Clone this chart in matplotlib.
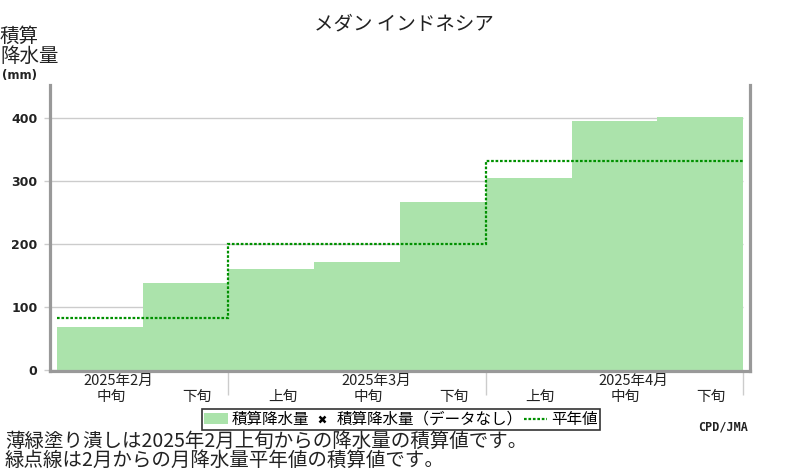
import numpy as np
import matplotlib
matplotlib.use('Agg')
import matplotlib.pyplot as plt
from matplotlib.patches import Patch
from matplotlib.lines import Line2D

plt.rcParams['font.family'] = ['Noto Sans CJK JP', 'DejaVu Sans']

# data: cumulative precipitation per dekad (mm)
dekads = ['中旬', '下旬', '上旬', '中旬', '下旬', '上旬', '中旬', '下旬']
months = ['2025年2月', '2025年3月', '2025年4月']
month_idx = [0, 3, 6]
precip_cum = [69, 139, 161, 172, 267, 306, 396, 402]
normal_cum = [83.5, 83.5, 200, 200, 200, 333, 333, 333]
month_bounds = [2, 5, 8]
yticks = [0, 100, 200, 300, 400]

bar_color = '#abe3ab'
line_color = '#009000'
axis_gray = '#999999'
grid_gray = '#cccccc'

fig = plt.figure(figsize=(8, 4.7), dpi=100)
ax = fig.add_axes([50/800, 1-371/470, 700/800, 286/470])

n = len(precip_cum)
x = np.arange(n)
ax.hlines(yticks, -0.08, n, color=grid_gray, lw=1, zorder=0)
ax.bar(x, precip_cum, width=1, align='edge', color=bar_color, lw=0, zorder=1)
ax.stairs(normal_cum, np.arange(n + 1), baseline=None, color=line_color,
          lw=1.6, linestyle=(0, (1.2, 0.8)), zorder=2)

ax.set_xlim(-0.08, n + 0.08)
ax.set_ylim(-1, 453)

for side in ['left', 'bottom', 'right']:
    ax.spines[side].set_color(axis_gray)
    ax.spines[side].set_linewidth(2.3)
ax.spines['top'].set_visible(False)

ax.set_yticks(yticks)
ax.set_yticklabels([str(v) for v in yticks], family='DejaVu Sans',
                   fontweight='bold', fontsize=9, color='#222222')
ax.tick_params(axis='y', length=4, color=grid_gray, width=1, pad=5)

ax.set_xticks([])
ax.set_xticks(month_bounds, minor=True)
ax.tick_params(axis='x', which='minor', length=17, color=grid_gray, width=1)

xt = ax.get_xaxis_transform()
for i, lab in enumerate(dekads):
    ax.annotate(lab, xy=(i + 0.5, 0), xycoords=xt, xytext=(8, -18.5),
                textcoords='offset points', ha='center', va='center',
                fontsize=10.5, color='#222222')
for i, lab in zip(month_idx, months):
    ax.annotate(lab, xy=(i + 0.5, 0), xycoords=xt, xytext=(13.5, -7),
                textcoords='offset points', ha='center', va='center',
                fontsize=10.5, color='#222222')

fig.text(0.505, 1 - 23.5/470, 'メダン インドネシア', ha='center', va='center',
         fontsize=14, color='#222222')
fig.text(0.0, 1 - 46/470, '積算\n降水量', ha='left', va='center',
         fontsize=14, linespacing=0.95, color='#222222')
fig.text(0.003, 1 - 76/470, '(mm)', ha='left', va='center',
         fontsize=8.5, fontweight='bold', family='DejaVu Sans', color='#222222')

handles = [Patch(facecolor=bar_color, edgecolor='none'),
           Line2D([], [], marker='x', color='black', lw=0, markersize=5,
                  markeredgewidth=1.8),
           Line2D([], [], color=line_color, lw=1.6, linestyle=(0, (1.2, 0.8)))]
labels = ['積算降水量', '積算降水量（データなし）', '平年値']
leg = fig.legend(handles, labels, loc='center', ncol=3,
                 bbox_to_anchor=(401/800, 1 - 419.5/470), fontsize=11.2,
                 frameon=True, fancybox=False, edgecolor='black',
                 handlelength=1.5, handletextpad=0.25, columnspacing=0.05,
                 borderpad=0.15, borderaxespad=0)
leg.get_frame().set_linewidth(1.2)

fig.text(748/800, 1 - 427/470, 'CPD/JMA', ha='right', va='center',
         fontsize=8.5, fontweight='bold', family='DejaVu Sans Mono',
         color='#222222')

fig.text(5/800, 1 - 451/470,
         '薄緑塗り潰しは2025年2月上旬からの降水量の積算値です。\n'
         '緑点線は2月からの月降水量平年値の積算値です。',
         ha='left', va='center', fontsize=14, linespacing=0.9,
         color='#222222')

fig.savefig('out.png', dpi=100)
